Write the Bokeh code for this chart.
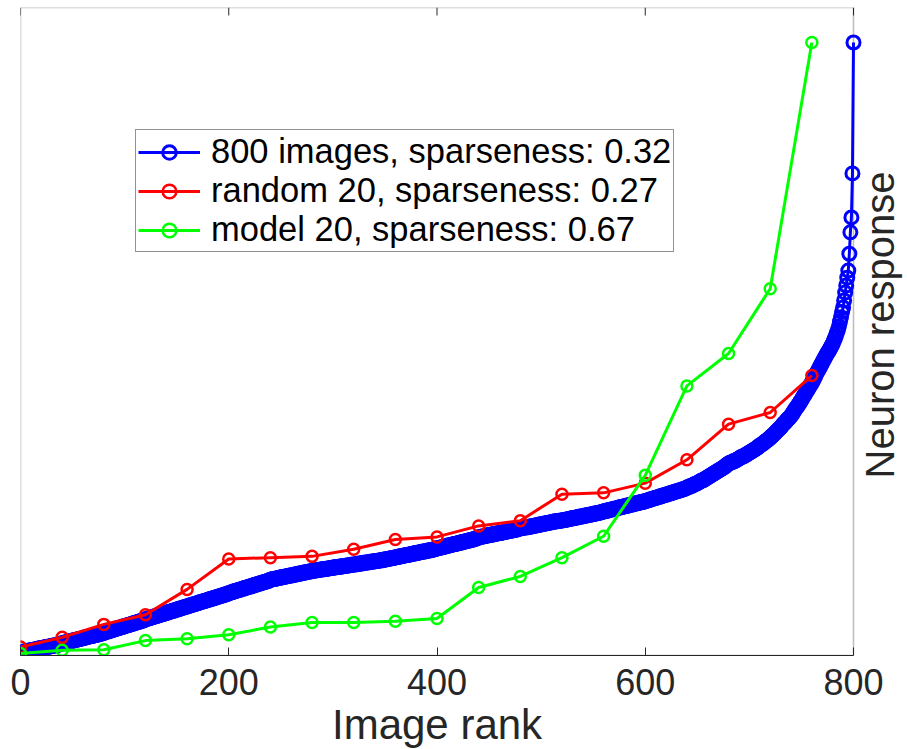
from bokeh.plotting import figure
from bokeh.models import Range1d, FixedTicker, Legend, LegendItem, Label, BoxAnnotation, Title
from bokeh.embed import file_html
from bokeh.resources import INLINE

# ---------------- data ----------------
x_ticks = [0, 200, 400, 600, 800]

# sorted responses of all 800 images (rank 1..800)
blue_resp = [
    0.5, 0.5, 0.6, 0.6, 0.6, 0.7, 0.7, 0.7, 0.8, 0.8, 0.8, 0.9, 0.9, 0.9, 1.0, 1.0, 1.0, 1.1, 1.1, 1.1,
    1.2, 1.2, 1.2, 1.3, 1.3, 1.3, 1.4, 1.4, 1.4, 1.5, 1.5, 1.5, 1.6, 1.6, 1.6, 1.7, 1.7, 1.8, 1.8, 1.9,
    1.9, 2.0, 2.0, 2.0, 2.1, 2.1, 2.2, 2.2, 2.2, 2.3, 2.3, 2.4, 2.4, 2.4, 2.5, 2.5, 2.6, 2.6, 2.6, 2.7,
    2.7, 2.8, 2.8, 2.8, 2.9, 2.9, 3.0, 3.0, 3.0, 3.1, 3.1, 3.2, 3.2, 3.2, 3.3, 3.3, 3.4, 3.4, 3.4, 3.5,
    3.6, 3.6, 3.7, 3.7, 3.8, 3.8, 3.9, 3.9, 4.0, 4.0, 4.1, 4.1, 4.2, 4.2, 4.3, 4.3, 4.4, 4.4, 4.5, 4.5,
    4.6, 4.6, 4.7, 4.7, 4.8, 4.8, 4.9, 4.9, 5.0, 5.0, 5.1, 5.1, 5.2, 5.2, 5.3, 5.3, 5.4, 5.4, 5.5, 5.6,
    5.6, 5.7, 5.7, 5.8, 5.8, 5.9, 5.9, 6.0, 6.0, 6.1, 6.1, 6.2, 6.2, 6.3, 6.3, 6.4, 6.4, 6.5, 6.5, 6.6,
    6.6, 6.7, 6.7, 6.8, 6.8, 6.9, 6.9, 7.0, 7.0, 7.1, 7.1, 7.2, 7.2, 7.3, 7.3, 7.4, 7.4, 7.5, 7.5, 7.6,
    7.6, 7.7, 7.7, 7.8, 7.8, 7.9, 7.9, 8.0, 8.0, 8.1, 8.1, 8.2, 8.2, 8.3, 8.3, 8.4, 8.4, 8.5, 8.5, 8.6,
    8.6, 8.7, 8.7, 8.8, 8.8, 8.9, 8.9, 9.0, 9.0, 9.1, 9.1, 9.2, 9.2, 9.3, 9.3, 9.4, 9.4, 9.5, 9.5, 9.6,
    9.7, 9.7, 9.8, 9.8, 9.9, 9.9, 10.0, 10.0, 10.1, 10.1, 10.2, 10.2, 10.3, 10.3, 10.4, 10.4, 10.5, 10.5, 10.6, 10.6,
    10.7, 10.7, 10.8, 10.8, 10.9, 10.9, 11.0, 11.0, 11.1, 11.1, 11.2, 11.2, 11.3, 11.3, 11.4, 11.4, 11.5, 11.5, 11.6, 11.7,
    11.7, 11.8, 11.8, 11.8, 11.9, 11.9, 11.9, 12.0, 12.0, 12.0, 12.1, 12.1, 12.1, 12.2, 12.2, 12.2, 12.3, 12.3, 12.3, 12.4,
    12.4, 12.4, 12.5, 12.5, 12.5, 12.6, 12.6, 12.6, 12.7, 12.7, 12.7, 12.8, 12.8, 12.8, 12.9, 12.9, 12.9, 13.0, 13.0, 13.0,
    13.1, 13.1, 13.1, 13.1, 13.2, 13.2, 13.2, 13.2, 13.3, 13.3, 13.3, 13.3, 13.4, 13.4, 13.4, 13.4, 13.5, 13.5, 13.5, 13.5,
    13.6, 13.6, 13.6, 13.6, 13.7, 13.7, 13.7, 13.7, 13.8, 13.8, 13.8, 13.8, 13.9, 13.9, 13.9, 13.9, 14.0, 14.0, 14.0, 14.0,
    14.1, 14.1, 14.1, 14.1, 14.2, 14.2, 14.2, 14.2, 14.3, 14.3, 14.3, 14.3, 14.4, 14.4, 14.4, 14.4, 14.5, 14.5, 14.5, 14.5,
    14.6, 14.6, 14.6, 14.6, 14.7, 14.7, 14.7, 14.7, 14.8, 14.8, 14.8, 14.9, 14.9, 14.9, 15.0, 15.0, 15.0, 15.1, 15.1, 15.1,
    15.2, 15.2, 15.2, 15.3, 15.3, 15.3, 15.4, 15.4, 15.4, 15.5, 15.5, 15.5, 15.6, 15.6, 15.6, 15.7, 15.7, 15.7, 15.8, 15.8,
    15.8, 15.9, 15.9, 15.9, 16.0, 16.0, 16.0, 16.1, 16.1, 16.1, 16.2, 16.2, 16.2, 16.3, 16.3, 16.3, 16.4, 16.4, 16.5, 16.5,
    16.6, 16.6, 16.6, 16.7, 16.7, 16.8, 16.8, 16.8, 16.9, 16.9, 17.0, 17.0, 17.0, 17.1, 17.1, 17.2, 17.2, 17.2, 17.3, 17.3,
    17.4, 17.4, 17.4, 17.5, 17.5, 17.6, 17.6, 17.6, 17.7, 17.7, 17.8, 17.8, 17.8, 17.9, 17.9, 18.0, 18.0, 18.1, 18.1, 18.2,
    18.3, 18.3, 18.3, 18.4, 18.4, 18.4, 18.5, 18.5, 18.5, 18.6, 18.6, 18.6, 18.7, 18.7, 18.7, 18.8, 18.8, 18.8, 18.9, 18.9,
    18.9, 19.0, 19.0, 19.0, 19.1, 19.1, 19.1, 19.2, 19.2, 19.2, 19.3, 19.3, 19.3, 19.4, 19.4, 19.4, 19.5, 19.5, 19.6, 19.6,
    19.7, 19.7, 19.7, 19.7, 19.8, 19.8, 19.8, 19.8, 19.9, 19.9, 19.9, 20.0, 20.0, 20.0, 20.1, 20.1, 20.1, 20.2, 20.2, 20.2,
    20.3, 20.3, 20.3, 20.4, 20.4, 20.4, 20.5, 20.5, 20.5, 20.6, 20.6, 20.6, 20.7, 20.7, 20.7, 20.7, 20.8, 20.8, 20.8, 20.8,
    20.9, 20.9, 20.9, 21.0, 21.0, 21.0, 21.1, 21.1, 21.1, 21.2, 21.2, 21.2, 21.3, 21.3, 21.3, 21.4, 21.4, 21.4, 21.5, 21.5,
    21.5, 21.6, 21.6, 21.6, 21.7, 21.7, 21.7, 21.8, 21.8, 21.8, 21.9, 21.9, 21.9, 22.0, 22.0, 22.0, 22.1, 22.1, 22.2, 22.2,
    22.3, 22.3, 22.3, 22.4, 22.4, 22.5, 22.5, 22.5, 22.6, 22.6, 22.7, 22.7, 22.7, 22.8, 22.8, 22.9, 22.9, 22.9, 23.0, 23.0,
    23.1, 23.1, 23.1, 23.2, 23.2, 23.3, 23.3, 23.3, 23.4, 23.4, 23.5, 23.5, 23.5, 23.6, 23.6, 23.7, 23.7, 23.7, 23.8, 23.8,
    23.9, 23.9, 24.0, 24.0, 24.1, 24.1, 24.2, 24.2, 24.3, 24.3, 24.4, 24.4, 24.5, 24.5, 24.6, 24.6, 24.7, 24.7, 24.8, 24.8,
    24.9, 24.9, 25.0, 25.0, 25.1, 25.1, 25.2, 25.2, 25.3, 25.3, 25.4, 25.4, 25.5, 25.5, 25.6, 25.6, 25.7, 25.7, 25.8, 25.9,
    26.0, 26.0, 26.1, 26.2, 26.2, 26.3, 26.4, 26.5, 26.5, 26.6, 26.7, 26.8, 26.9, 27.0, 27.0, 27.1, 27.2, 27.3, 27.4, 27.5,
    27.6, 27.7, 27.8, 27.9, 28.0, 28.1, 28.2, 28.3, 28.4, 28.5, 28.6, 28.7, 28.8, 28.9, 29.0, 29.1, 29.2, 29.4, 29.5, 29.6,
    29.7, 29.8, 29.8, 29.9, 30.0, 30.0, 30.1, 30.2, 30.3, 30.4, 30.5, 30.6, 30.7, 30.7, 30.8, 30.9, 31.0, 31.1, 31.2, 31.3,
    31.4, 31.5, 31.6, 31.7, 31.8, 31.9, 32.0, 32.1, 32.3, 32.4, 32.5, 32.6, 32.7, 32.8, 33.0, 33.1, 33.2, 33.3, 33.5, 33.6,
    33.8, 33.9, 34.1, 34.2, 34.4, 34.6, 34.7, 34.9, 35.0, 35.2, 35.4, 35.6, 35.8, 35.9, 36.1, 36.3, 36.5, 36.6, 36.8, 37.0,
    37.2, 37.5, 37.7, 38.0, 38.2, 38.4, 38.7, 38.9, 39.2, 39.4, 39.7, 40.0, 40.2, 40.5, 40.8, 41.0, 41.3, 41.6, 41.8, 42.1,
    42.4, 42.7, 43.0, 43.4, 43.7, 44.0, 44.3, 44.6, 44.9, 45.2, 45.5, 45.8, 46.1, 46.4, 46.7, 46.9, 47.2, 47.5, 47.8, 48.1,
    48.5, 48.9, 49.3, 49.8, 50.2, 50.8, 51.5, 52.2, 53.0, 53.7, 54.8, 56.0, 57.1, 58.3, 59.4, 62.0, 65.3, 67.6, 74.4, 94.6,
]
blue_rank = list(range(1, len(blue_resp) + 1))

sub_rank = [0, 40, 80, 120, 160, 200, 240, 280, 320, 360,
            400, 440, 480, 520, 560, 600, 640, 680, 720, 760]
red_resp = [1.3, 2.8, 4.8, 6.3, 10.2, 14.9, 15.1, 15.3, 16.4, 17.9,
            18.3, 20.0, 20.8, 24.9, 25.1, 26.6, 30.2, 35.7, 37.5, 43.2]
green_resp = [0.3, 0.8, 0.9, 2.3, 2.6, 3.2, 4.4, 5.1, 5.1, 5.3,
              5.7, 10.5, 12.2, 15.1, 18.4, 27.8, 41.6, 46.6, 56.6, 94.6]

labels = ["800 images, sparseness: 0.32",
          "random 20, sparseness: 0.27",
          "model 20, sparseness: 0.67"]

# ---------------- layout / styling ----------------
FONT = "Liberation Sans"
AX = "#262626"
BLUE, RED, GREEN = "#0000FF", "#FF0000", "#00FF00"
W, H = 907, 749
BOX_L, BOX_R, BOX_T, BOX_B = 20, 853, 7, 655     # axes box in pixels
X_MAX, Y_TOP = 800, 100
# the frame runs to the right edge of the canvas so that the right-hand
# title can live inside it; the visible axes box is drawn as a BoxAnnotation
X_END = X_MAX * (W - BOX_L) / (BOX_R - BOX_L)
PX = (BOX_R - BOX_L) / X_MAX                      # pixels per rank

p = figure(width=W, height=H, output_backend="svg", toolbar_location=None,
           x_range=Range1d(0, X_END), y_range=Range1d(0, Y_TOP),
           min_border_left=BOX_L, min_border_right=0, min_border_top=BOX_T,
           min_border_bottom=H - BOX_B, y_axis_location=None)
p.background_fill_color = "white"
p.border_fill_color = "white"
p.outline_line_color = None
p.grid.visible = False

xa = p.xaxis[0]
xa.ticker = FixedTicker(ticks=x_ticks)
xa.bounds = (0, X_MAX)
xa.major_label_text_font = FONT
xa.major_label_text_font_size = "36px"
xa.major_label_text_color = AX
xa.major_label_standoff = 13
xa.major_tick_in = 8
xa.major_tick_out = 0
xa.major_tick_line_color = AX
xa.minor_tick_line_color = None
xa.axis_line_color = AX

# x-axis title centred under the axes box (not under the wider frame)
XLAB_FS = 42
xlab_w = 5.0 * XLAB_FS                          # approx. width of "Image rank"
p.add_layout(Title(text="Image rank", align="left",
                   offset=(X_MAX / 2) * PX - xlab_w / 2,
                   text_font=FONT, text_font_size=f"{XLAB_FS}px",
                   text_font_style="normal", text_color=AX, standoff=2), "below")

# axes box
p.add_layout(BoxAnnotation(left=0, right=X_MAX, bottom=0, top=Y_TOP,
                           fill_alpha=0, line_color=AX, line_width=1.5, level="underlay"))

# mirrored tick marks on the top edge (MATLAB box)
tick_len = 8 * Y_TOP / (BOX_B - BOX_T)
p.segment(x0=x_ticks, y0=[Y_TOP] * len(x_ticks), x1=x_ticks,
          y1=[Y_TOP - tick_len] * len(x_ticks), line_color=AX, line_width=1)

renderers = []
for resp, rank, col, sz, lw in [(blue_resp, blue_rank, BLUE, 13, 3),
                                (red_resp, sub_rank, RED, 11, 2.5),
                                (green_resp, sub_rank, GREEN, 11, 2.5)]:
    ln = p.line(rank, resp, line_color=col, line_width=3)
    sc = p.scatter(rank, resp, marker="circle", size=sz, line_color=col,
                   line_width=lw, fill_color=None)
    renderers.append([ln, sc])

legend = Legend(items=[LegendItem(label=lab, renderers=r) for lab, r in zip(labels, renderers)],
                location=(115, 403), margin=0, padding=2, spacing=0,
                glyph_width=62, glyph_height=34, label_height=34, label_standoff=11,
                label_text_font=FONT, label_text_font_size="34.5px", label_text_color="black",
                label_text_baseline="middle",
                border_line_color=AX, border_line_width=1,
                background_fill_color="white", background_fill_alpha=1.0)
p.add_layout(legend)

# y-axis title on the right, reading bottom-to-top
title_x = (879 - BOX_L) / PX
p.add_layout(Label(x=title_x, y=51, text="Neuron response", angle=90, angle_units="deg",
                   text_align="center", text_baseline="alphabetic",
                   text_font=FONT, text_font_size="40px", text_color=AX))

open("out.html", "w").write(file_html(p, INLINE))
